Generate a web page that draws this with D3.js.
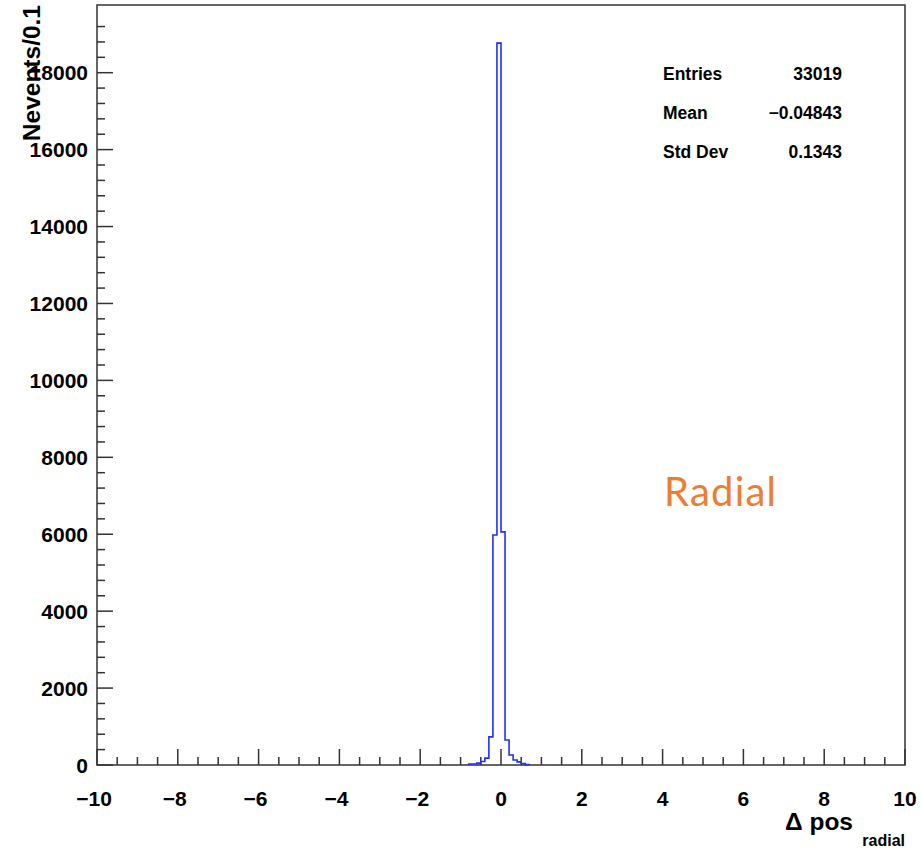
<!DOCTYPE html>
<html><head><meta charset="utf-8">
<script src="https://cdn.jsdelivr.net/npm/d3@7"></script>
<style>body{margin:0;background:#fff}svg{display:block}</style>
</head><body>
<script>
// Data: histogram bin lower edges (width 0.1) and counts
const binLow = [-0.8,-0.7,-0.6,-0.5,-0.4,-0.3,-0.2,-0.1,0.0,0.1,0.2,0.3,0.4,0.5,0.6];
const counts = [25,25,50,90,180,730,5980,18770,6060,650,260,130,80,40,10];
const binWidth = 0.1;
const xTicks = [-10,-8,-6,-4,-2,0,2,4,6,8,10];
const yTicks = [0,2000,4000,6000,8000,10000,12000,14000,16000,18000];
const statsLabels = ["Entries","Mean","Std Dev"];
const statsValues = ["33019","\u22120.04843","0.1343"];

const W = 921, H = 850;
const pLeft = 97, pRight = 905, pTop = 5, pBottom = 765;
const svg = d3.select("body").append("svg").attr("width", W).attr("height", H);

const x = d3.scaleLinear().domain([-10, 10]).range([pLeft, pRight]);
const y = d3.scaleLinear().domain([0, 19760]).range([pBottom, pTop]);

const axisColor = "#333";
const font = "'Liberation Sans', Arial, Helvetica, sans-serif";

// Frame
svg.append("rect").attr("x", pLeft).attr("y", pTop).attr("width", pRight-pLeft).attr("height", pBottom-pTop)
  .attr("fill","none").attr("stroke", axisColor).attr("stroke-width", 1.5);

// X ticks (major every 2, minor every 0.5)
const xMinor = d3.range(-10, 10.001, 0.5);
svg.append("g").selectAll("line").data(xMinor).join("line")
  .attr("x1", d => x(d)).attr("x2", d => x(d))
  .attr("y1", pBottom).attr("y2", d => (Math.abs(d/2 - Math.round(d/2)) < 1e-6) ? pBottom-16 : pBottom-8)
  .attr("stroke", axisColor).attr("stroke-width", 1.5);
svg.append("g").selectAll("text").data(xTicks).join("text")
  .attr("x", d => x(d) - (d < 0 ? 3 : 0)).attr("y", 806)
  .attr("text-anchor","middle").attr("font-family", font).attr("font-weight","bold").attr("font-size", 21)
  .attr("fill","#000")
  .text(d => d < 0 ? "\u2212" + Math.abs(d) : d);

// Y ticks (major every 2000, minor every 400)
const yMinor = d3.range(0, 19600, 400);
svg.append("g").selectAll("line").data(yMinor).join("line")
  .attr("x1", pLeft).attr("x2", d => (d % 2000 === 0) ? pLeft+16 : pLeft+8)
  .attr("y1", d => y(d)).attr("y2", d => y(d))
  .attr("stroke", axisColor).attr("stroke-width", 1.5);
svg.append("g").selectAll("text").data(yTicks).join("text")
  .attr("x", 88).attr("y", d => y(d) + 7.5)
  .attr("text-anchor","end").attr("font-family", font).attr("font-weight","bold").attr("font-size", 21)
  .attr("fill","#000")
  .text(d => d);

// Histogram outline (step)
const pts = [];
pts.push([binLow[0], 0]);
binLow.forEach((b, i) => { pts.push([b, counts[i]]); pts.push([b + binWidth, counts[i]]); });
pts.push([binLow[binLow.length-1] + binWidth, 0]);
svg.append("path")
  .attr("d", d3.line().x(d => x(d[0])).y(d => y(d[1]))(pts))
  .attr("fill","none").attr("stroke","#1f2fff").attr("stroke-width",1.6);

// Y axis title
svg.append("text")
  .attr("transform", `translate(40,5) rotate(-90)`)
  .attr("text-anchor","end").attr("font-family", font).attr("font-weight","bold").attr("font-size", 24.5)
  .attr("fill","#000").text("Nevents/0.1");

// X axis title
svg.append("text").attr("x", 785).attr("y", 830)
  .attr("font-family", font).attr("font-weight","bold").attr("font-size", 24.5).attr("fill","#000")
  .text("\u0394 pos");
svg.append("text").attr("x", 905).attr("y", 846).attr("text-anchor","end")
  .attr("font-family", font).attr("font-weight","bold").attr("font-size", 16).attr("fill","#000").text("radial");

// Stats box text
svg.append("g").selectAll("text").data(statsLabels).join("text")
  .attr("x", 663).attr("y", (d,i) => 80 + i*39)
  .attr("font-family", font).attr("font-weight","bold").attr("font-size", 17.5).attr("fill","#000")
  .text(d => d);
svg.append("g").selectAll("text").data(statsValues).join("text")
  .attr("x", 842).attr("y", (d,i) => 80 + i*39).attr("text-anchor","end")
  .attr("font-family", font).attr("font-weight","bold").attr("font-size", 17.5).attr("fill","#000")
  .text(d => d);

// Annotation
svg.append("text").attr("x", 664).attr("y", 506)
  .attr("font-family", "Lato, 'Open Sans', sans-serif").attr("font-size", 40).attr("letter-spacing", 1.2)
  .attr("fill","#ed7d31")
  .text("Radial");
</script>
</body></html>
